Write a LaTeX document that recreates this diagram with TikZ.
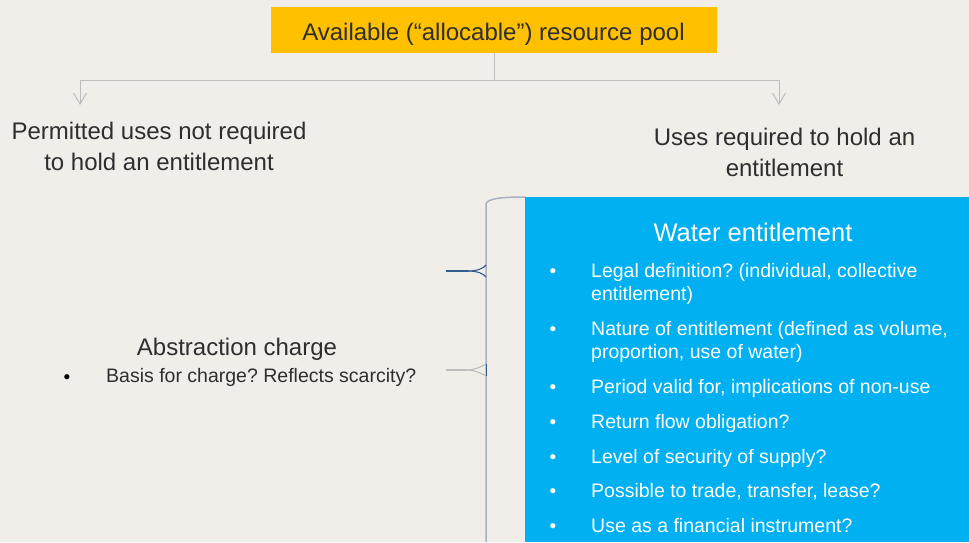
\documentclass[tikz,border=0pt]{standalone}
\usepackage{fontspec}
\setmainfont{Liberation Sans}
\usepackage{xcolor}
\usetikzlibrary{arrows.meta,positioning,calc}
\frenchspacing

\definecolor{bgbeige}{HTML}{F1EEEA}
\definecolor{poolyellow}{HTML}{FFC000}
\definecolor{entblue}{HTML}{00B0F0}
\definecolor{txtdark}{HTML}{2E2E2E}
\definecolor{linegray}{HTML}{BDBDBD}
\definecolor{bracegray}{HTML}{A9B2C0}
\definecolor{linkblue}{HTML}{2F5D8E}

\tikzset{
  bigtext/.style={text=txtdark, inner sep=0pt, align=center, font=\fontsize{24}{31}\selectfont},
  itemtext/.style={inner sep=0pt, align=left, font=\fontsize{19.5}{23}\selectfont},
  dotmark/.style={inner sep=0pt, anchor=base, font=\fontsize{19}{20}\selectfont},
  splitline/.style={draw=linegray, line width=1pt},
}

\begin{document}
\begin{tikzpicture}[x=1pt, y=-1pt]
    \fill[bgbeige] (0,0) rectangle (969,542);
    \useasboundingbox (0,0) rectangle (969,542);

    % resource pool and the split
    \node[fill=poolyellow, text=txtdark, minimum width=446pt, minimum height=46pt, inner sep=0pt,
          text height=20pt, text depth=0pt,
          font=\fontsize{24}{28}\selectfont] (pool) at (493.5,30) {Available (“allocable”) resource pool};
    \coordinate (split) at (494,80);
    \coordinate (lsplit) at (80,80);
    \coordinate (rsplit) at (779,80);
    \coordinate (ltip) at (80,105);
    \coordinate (rtip) at (779,105);
    \draw[splitline] (pool.south -| split) -- (split);
    \draw[splitline, -{Straight Barb[length=11pt, width=13pt, line width=1pt]}] (split) -- (lsplit) -- (ltip);
    \draw[splitline, -{Straight Barb[length=11pt, width=13pt, line width=1pt]}] (split) -- (rsplit) -- (rtip);

    \node[bigtext, anchor=north] (permitted) at (159,122) {Permitted uses not required\\to hold an entitlement};
    \node[bigtext, anchor=north] (required) at (784.5,128) {Uses required to hold an\\entitlement};

    % water entitlement box
    \node[fill=entblue, minimum width=444pt, minimum height=345pt, inner sep=0pt, anchor=north west] (ent) at (525,197) {};
    \node[text=white, inner sep=0pt, anchor=base, font=\fontsize{25.5}{30}\selectfont] (enttitle) at (753,241) {Water entitlement};

    \node[itemtext, text=white, anchor=north west] (e1) at (591,263) {Legal definition? (individual, collective\\entitlement)};
    \node[itemtext, text=white, anchor=north west] (e2) at (591,321) {Nature of entitlement (defined as volume,\\proportion, use of water)};
    \node[itemtext, text=white, anchor=north west] (e3) at (591,379) {Period valid for, implications of non-use};
    \node[itemtext, text=white, anchor=north west] (e4) at (591,414) {Return flow obligation?};
    \node[itemtext, text=white, anchor=north west] (e5) at (591,449) {Level of security of supply?};
    \node[itemtext, text=white, anchor=north west] (e6) at (591,483) {Possible to trade, transfer, lease?};
    \node[itemtext, text=white, anchor=north west] (e7) at (591,518) {Use as a financial instrument?};

    \node[dotmark, text=white] at (553,277) {•};
    \node[dotmark, text=white] at (553,335) {•};
    \node[dotmark, text=white] at (553,393) {•};
    \node[dotmark, text=white] at (553,428) {•};
    \node[dotmark, text=white] at (553,463) {•};
    \node[dotmark, text=white] at (553,497) {•};
    \node[dotmark, text=white] at (553,532) {•};

    % abstraction charge
    \node[bigtext, anchor=north] (charge) at (237,338) {Abstraction charge};
    \node[itemtext, text=txtdark, anchor=north west] (basis) at (106,368) {Basis for charge? Reflects scarcity?};
    \node[dotmark, text=black] at (67,383) {•};

    % bracket
    \coordinate (bracetop) at (486,204);
    \coordinate (bracebot) at (486,542);
    \draw[bracegray, line width=1.5pt] (bracebot) -- (bracetop) .. controls (487,198) and (505,197) .. (ent.north west);

    \coordinate (bluestart) at (446,271);
    \coordinate (bluemid) at (468,271);
    \draw[linkblue, line width=1.6pt] (bluestart) -- (bluemid);
    \draw[linkblue, line width=1.1pt] (bluemid) .. controls (478,271) and (484,268) .. (486,265);
    \draw[linkblue, line width=1.1pt] (bluemid) .. controls (478,271) and (484,274) .. (486,277);

    \coordinate (graystart) at (446,370);
    \coordinate (graymid) at (466,370);
    \draw[linegray, line width=1.6pt] (graystart) -- (graymid);
    \draw[linegray, line width=1.1pt] (graymid) .. controls (476,370) and (482,366) .. (486,364);
    \draw[linegray, line width=1.1pt] (graymid) .. controls (476,370) and (482,374) .. (486,376);
    \draw[linkblue, line width=1pt] (486,364) -- (486,376);
\end{tikzpicture}
\end{document}
